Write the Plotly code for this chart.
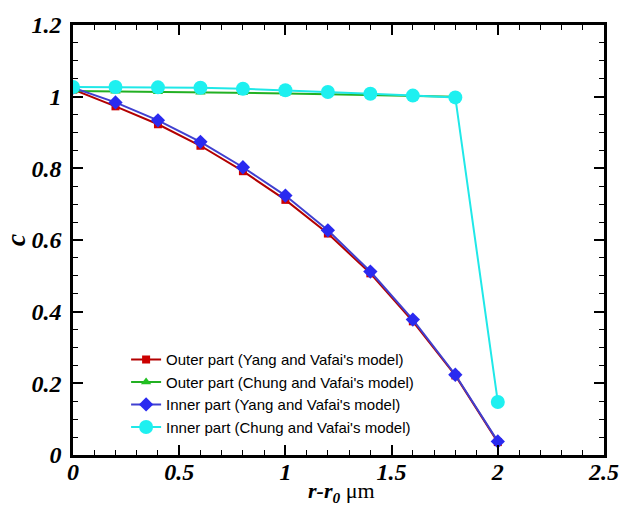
import plotly.graph_objects as go

x_full = [0, 0.2, 0.4, 0.6, 0.8, 1.0, 1.2, 1.4, 1.6, 1.8, 2.0]
x_outer_chung = [0, 0.2, 0.4, 0.6, 0.8, 1.0, 1.2, 1.4, 1.6, 1.8]

outer_yang = [1.02, 0.973, 0.923, 0.863, 0.792, 0.712, 0.618, 0.507, 0.373, 0.222, 0.036]
outer_chung = [1.016, 1.015, 1.014, 1.012, 1.011, 1.009, 1.007, 1.005, 1.003, 1.0]
inner_yang = [1.025, 0.984, 0.934, 0.874, 0.803, 0.724, 0.627, 0.512, 0.378, 0.224, 0.038]
inner_chung = [1.027, 1.027, 1.026, 1.025, 1.022, 1.018, 1.013, 1.008, 1.003, 0.998, 0.148]

names = [
    "Outer part (Yang and Vafai's model)",
    "Outer part (Chung and Vafai's model)",
    "Inner part (Yang and Vafai's model)",
    "Inner part (Chung and Vafai's model)",
]

fig = go.Figure()
fig.add_trace(go.Scatter(x=x_full, y=outer_yang, name=names[0], mode="lines+markers",
                         line=dict(color="#b30000", width=2),
                         marker=dict(symbol="square", size=8, color="#cc0000")))
fig.add_trace(go.Scatter(x=x_outer_chung, y=outer_chung, name=names[1], mode="lines+markers",
                         line=dict(color="#22b022", width=2),
                         marker=dict(symbol="triangle-up", size=9, color="#22c022")))
fig.add_trace(go.Scatter(x=x_full, y=inner_yang, name=names[2], mode="lines+markers",
                         line=dict(color="#4040d0", width=2),
                         marker=dict(symbol="diamond", size=11, color="#2a2af0")))
fig.add_trace(go.Scatter(x=x_full, y=inner_chung, name=names[3], mode="lines+markers",
                         line=dict(color="#20e8e8", width=2),
                         marker=dict(symbol="circle", size=14, color="#1ef0f0")))

tickfont = dict(family="Liberation Serif", size=24, weight="bold", style="italic", color="black")

fig.update_layout(
    width=631, height=507,
    margin=dict(l=70, r=16, t=16, b=52),
    paper_bgcolor="white", plot_bgcolor="white",
    showlegend=True,
    legend=dict(x=0.1, y=0.26, xanchor="left", yanchor="top",
                bgcolor="rgba(0,0,0,0)", tracegroupgap=0,
                font=dict(family="Liberation Sans", size=15, color="black")),
    xaxis=dict(range=[0, 2.5], dtick=0.5, showgrid=False, zeroline=False,
               showline=True, linecolor="black", linewidth=2.5, mirror="allticks",
               ticks="inside", ticklen=10, tickwidth=2, tickcolor="black",
               minor=dict(dtick=0.1, ticks="inside", ticklen=5, tickwidth=1, tickcolor="black"),
               tickfont=tickfont, ticklabelstandoff=-7),
    yaxis=dict(range=[0, 1.2], dtick=0.2, showgrid=False, zeroline=False,
               showline=True, linecolor="black", linewidth=2.5, mirror="allticks",
               ticks="inside", ticklen=10, tickwidth=2, tickcolor="black",
               minor=dict(dtick=0.05, ticks="inside", ticklen=5, tickwidth=1, tickcolor="black"),
               tickfont=tickfont, ticklabelstandoff=4,
               title=dict(text="<b><i>c</i></b>",
                          font=dict(family="Liberation Serif", size=28, color="black"),
                          standoff=0)),
    annotations=[dict(
        text="<b><i>r-r</i></b><sub><b><i>0</i></b></sub> μm",
        xref="paper", yref="paper", x=0.505, y=0, yshift=-37,
        xanchor="center", yanchor="middle", showarrow=False,
        font=dict(family="Liberation Serif", size=22, color="black"))],
)

fig.write_html("out.html")
